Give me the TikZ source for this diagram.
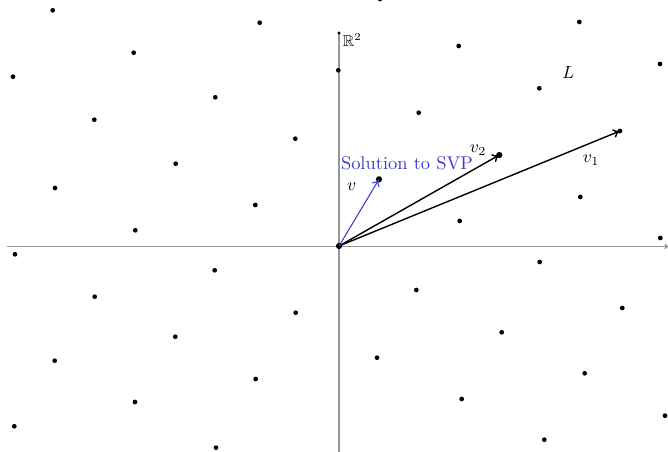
\documentclass[tikz,border=0pt]{standalone}
\usepackage{amsmath,amssymb}
\definecolor{svpblue}{RGB}{60,60,205}
\definecolor{axgray}{RGB}{150,150,150}
\usetikzlibrary{arrows.meta,positioning}

\begin{document}
\begin{tikzpicture}[
  x=0.02cm, y=0.02cm,
  latdot/.style={circle,fill=black,inner sep=0pt,minimum size=2.7pt},
  bigdot/.style={circle,fill=black,inner sep=0pt,minimum size=3.5pt},
  axis/.style={axgray,line width=0.8pt},
  vec/.style={-{To[length=4pt,width=5pt]},line width=0.8pt},
]
  \useasboundingbox (-339,-206) rectangle (329,246);
  \clip (-339,-206) rectangle (329,246);

  % axes
  \coordinate (xl) at (-332,-0.5);
  \coordinate (xr) at (329,-0.5);
  \coordinate (yb) at (0,-206);
  \coordinate (yt) at (0,213);
  \draw[axis,-{To[length=2pt,width=3pt]}] (xl) -- (xr);
  \draw[axis] (yb) -- (yt);
  \fill (yt) circle (0.9pt);

  % lattice points of L
  \foreach \px/\py [count=\k] in {
      -286.3/235.7, -205.3/193.3, -326/169.3, -123.7/148.7, -244.7/126.3,
      -163.3/82.3, -284/58, 41/247, -79.3/223.3, -0.7/175.7,
      79.7/133.3, -43.7/107.3, -83.7/41, 240.3/224, 119.7/200,
      321/182, 200.3/157.7, 241.3/49, 120.7/25, -203.7/15.7,
      -324/-8.3, -124.3/-24.3, -244.3/-50.7, -163.7/-90.7, -284.3/-114.7,
      -204/-156, -324.7/-180.3, -123/-201.7, 77.3/-44, -43.3/-66.7,
      38/-111.7, -83.3/-133, 321.3/8, 200.7/-16, 283.3/-62,
      162.7/-86.3, 245.7/-127.3, 122.7/-153, 326/-169.7, 205.3/-193.7}
    \node[latdot] (p\k) at (\px,\py) {};

  % basis and shortest vector
  \node[bigdot] (o) at (0,0) {};
  \node[bigdot] (v) at (40,66.7) {};
  \node[bigdot] (w2) at (160.3,91) {};
  \node[latdot] (w1) at (281,115) {};

  \draw[vec] (o.center) -- (w1.center);
  \draw[vec] (o.center) -- (w2.center);
  \draw[vec,svpblue,line width=0.6pt] (o.center) -- (v.center);

  % labels
  \node (lv1) at (252,86) {$v_1$};
  \node[inner sep=1pt] (lv2) at (139,96) {$v_2$};
  \node (lv) at (12.7,59.5) {$v$};
  \node[text=svpblue,font=\fontsize{10.5}{13}\selectfont,inner sep=1pt] (svp) at (68,83) {Solution to SVP};
  \node (lL) at (229.3,173.5) {$L$};
  \node[right,font=\small,inner sep=0pt] (r2) at (3.5,206) {$\mathbb{R}^2$};
\end{tikzpicture}
\end{document}
